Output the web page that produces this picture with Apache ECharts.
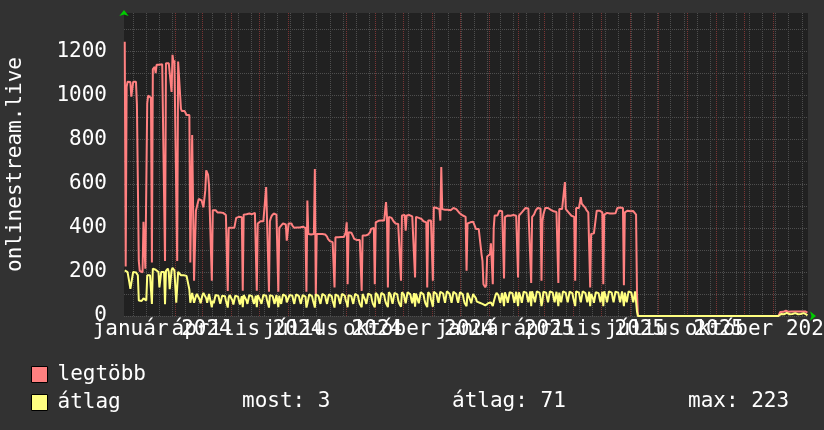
<!DOCTYPE html>
<html><head><meta charset="utf-8">
<script src="https://cdn.jsdelivr.net/npm/echarts@6/dist/echarts.min.js"></script>
<style>html,body{margin:0;padding:0;background:#323232;}#c{width:824px;height:430px;}</style>
</head><body><div id="c"></div>
<script>
const seriesNames = ['legtöbb', 'átlag'];
const dataStart = '2023-12-09';
const tailStart = '2025-11-06';
// daily "legtöbb" values from 2023-12-09 to 2025-06-09
const maxMain = [
1245,225,1040,1063,1060,1058,1062,995,1000,1063,1065,1060,1063,958,
955,250,205,200,210,198,428,430,215,220,965,1000,1003,1000,
990,243,1120,1125,1130,1102,1140,1147,1147,1140,1140,1145,1142,1150,
1140,250,1147,1150,1148,1147,1150,1145,1017,1185,1150,1160,1165,1160,
250,1155,1160,1150,940,930,930,925,930,930,912,912,910,912,
243,243,821,821,160,160,478,478,480,531,531,531,525,531,
493,493,570,661,661,640,592,592,590,160,480,482,478,480,
478,470,465,468,470,470,472,468,460,462,458,460,114,400,
400,405,400,398,402,400,405,445,448,448,450,445,448,448,
115,460,465,465,462,465,468,465,470,465,462,465,465,468,
465,115,420,425,428,430,425,428,430,425,430,585,585,580,
110,430,445,455,460,465,462,465,460,465,110,400,405,410,
418,420,418,420,415,342,380,420,418,415,420,410,405,400,
402,400,402,400,405,402,400,402,405,400,398,400,110,524,
372,375,372,370,372,375,372,667,90,372,375,370,372,375,
370,372,380,378,370,365,360,350,345,340,338,335,335,335,
129,357,360,358,357,360,362,358,355,360,358,362,380,425,
144,380,382,380,378,375,360,350,345,350,345,350,348,345,
350,114,365,365,362,365,368,365,370,372,380,395,400,398,
400,144,425,428,430,432,433,430,433,435,430,433,440,517,
450,129,450,452,450,445,440,430,425,420,418,420,418,420,
418,160,456,456,455,458,387,456,455,456,458,455,456,452,
450,455,175,450,450,448,445,440,438,440,435,430,428,425,
425,129,433,433,435,433,430,160,494,494,495,490,488,490,
485,433,676,485,488,485,482,485,480,482,480,485,480,478,
480,490,490,488,485,480,475,470,465,460,458,456,456,455,
450,205,420,425,428,425,430,425,428,425,420,395,398,395,
395,390,392,280,250,144,135,130,140,270,275,270,280,330,
330,144,400,456,458,455,456,460,478,480,478,475,478,170,
450,452,455,456,458,456,455,452,456,458,455,456,455,452,
175,456,460,465,470,475,480,485,490,494,490,488,492,494,
150,450,455,460,470,480,485,490,494,490,488,160,430,460,
475,490,494,494,490,488,485,482,480,478,475,472,470,472,
470,150,485,485,488,485,482,485,608,485,480,475,470,465,
460,455,450,452,450,160,490,490,488,490,492,539,510,505,
500,495,490,480,475,470,468,129,372,372,370,375,372,380,
478,478,475,478,476,478,470,144,460,462,465,468,470,468,
465,470,468,465,470,468,466,470,490,488,490,492,490,488,
490,140,470,472,475,478,480,478,475,478,480,476,478,470,
460,100,0
];
// daily "átlag" values from 2023-12-09 to 2025-06-09
const avgMain = [
207,205,200,199,198,150,123,120,125,200,201,200,198,190,
185,70,65,62,68,70,80,85,75,70,185,188,185,185,
180,55,215,223,215,210,207,207,200,130,132,200,200,202,
200,53,205,212,215,200,122,125,207,218,212,207,200,60,
60,200,200,195,185,185,182,185,180,185,182,185,180,120,
60,60,105,105,60,60,
90,100,98,95,75,58,62, 95,105,102,100,80,60,65, 100,98,95,40,70,58,62,
95,100,98,92,72,55,60, 92,98,96,90,70,55,38, 85,95,96,90,70,52,58,
92,98,95,88,68,52,58, 90,40,95,98,90,70,55, 60,95,100,96,90,68,55,
60,92,40,95,92,88,68, 55,60,95,100,98,92,70, 55,38,95,100,96,90,70,
55,60,95,98,40,92,70, 55,60,98,100,96,90,62, 55,60,95,100,98,92,70,
55,60,98,102,96,90,70, 55,60,95,98,96,88,38, 55,62,98,100,96,90,70,
55,38,98,102,96,90,70, 55,60,100,105,98,92,70, 55,60,98,102,96,90,68,
55,38,98,100,96,90,70, 55,60,100,102,98,92,70, 60,40,95,100,96,90,70,
55,60,100,105,98,92,70, 55,60,40,100,98,92,70, 55,60,102,108,100,95,72,
55,60,40,105,100,95,72, 55,62,105,110,102,96,72, 58,62,40,108,102,96,72,
55,62,105,110,104,98,72, 58,62,42,108,104,98,75, 58,62,108,112,105,98,75,
58,62,104,42,102,98,72, 58,62,108,112,104,98,75, 58,62,40,108,104,98,75,
60,42,110,115,108,100,75, 60,65,110,118,110,102,78, 60,65,112,116,108,100,78,
60,65,110,115,108,100,75, 60,65,108,112,105,98,75, 58,62,45,105,102,96,72,
58,62,100,104,98,80,65, 62,60,60,58,58,55,50, 48,48,50,55,58,60,60,
62,62,45,65,70,95,105, 100,95,75,60,65,105,112, 45,108,100,80,60,65,108,
115,110,104,80,60,65,110, 115,45,108,100,80,60,65, 110,118,112,105,80,62,66,
112,45,112,105,80,62,66, 112,118,112,105,80,45,66, 110,118,112,106,82,62,66,
112,120,114,106,82,62,66, 110,118,45,106,82,62,66, 112,118,112,105,80,62,66,
110,116,110,104,80,62,45, 112,118,114,106,82,62,66, 112,118,112,104,80,62,66,
110,45,100,98,80,60,65, 108,115,110,104,80,62,66, 110,45,112,106,82,62,66,
112,118,114,106,82,62,66, 110,118,112,106,82,62,66, 112,118,45,106,82,62,66,
112,120,114,106,82,62,66,
112,110,20,0
];
// daily values from 2025-11-06 to 2025-12-07
const maxTail = [0,0,18,18,20,19,18,20,24,30,22,19,18,19,20,19,18,20,26,28,20,18,19,20,19,18,20,25,28,20,18,15];
const avgTail = [0,0,8,9,10,9,8,10,12,14,10,9,8,9,10,9,8,10,13,12,9,8,9,10,9,8,10,13,11,8,6,3];
const tickLabels = ['január 2024','április 2024','július 2024','október 2024','január 2025','április 2025','július 2025','október 2025'];
const tickLabelDates = ['2024-01-18','2024-04-18','2024-07-18','2024-10-18','2025-01-18','2025-04-18','2025-07-18','2025-10-18'];
const yLabels = [0,200,400,600,800,1000,1200];
const yGrid = [0,100,200,300,400,500,600,700,800,900,1000,1100,1200,1300];
const statLabels = ['most: 3','átlag: 71','max: 223'];
const yName = 'onlinestream.live';

const DAY = 86400000;
const origin = Date.UTC(2024,0,1);
function dayOf(s){ const p = s.split('-').map(Number); return (Date.UTC(p[0],p[1]-1,p[2]) - origin)/DAY; }
function toPoints(start, arr){ const s = dayOf(start); return arr.map((v,i)=>[s+i, v]); }
const maxData = toPoints(dataStart, maxMain).concat(toPoints(tailStart, maxTail));
const avgData = toPoints(dataStart, avgMain).concat(toPoints(tailStart, avgTail));

const monthTicks = [];
for (let y = 2024; y <= 2025; y++) for (let m = 0; m < 12; m++) monthTicks.push((Date.UTC(y,m,1)-origin)/DAY);
const weekTicks = [];
for (let d = -14; d <= 706; d += 14) weekTicks.push(d);
const labelDays = tickLabelDates.map(dayOf);
const labelDaysA = labelDays.filter((d,i)=>i%2===0);
const labelDaysB = labelDays.filter((d,i)=>i%2===1);
const xMin = -23.8, xMax = 706.6;

const FONT = 'DejaVu Sans Mono';
const FS = 21;
const minorColor = '#4e4e4e';
const majorColor = '#7a3434';
const chart = echarts.init(document.getElementById('c'), null, {renderer:'canvas'});
const labelFmt = (v)=>{ const i = labelDays.indexOf(Math.round(v)); return i >= 0 ? tickLabels[i] : ''; };
const labelStyle = {show:true, color:'#ffffff', fontFamily:FONT, fontSize:FS, margin:3,
  showMinLabel:true, showMaxLabel:true, hideOverlap:false, formatter:labelFmt};
const baseX = {type:'value', min:xMin, max:xMax, position:'bottom',
  axisLine:{show:false, onZero:false}, axisTick:{show:false}, axisLabel:{show:false}, splitLine:{show:false}};
chart.setOption({
  animation:false,
  backgroundColor:'#323232',
  grid:{left:124, right:16, top:13, bottom:114, show:true, backgroundColor:'#212121', borderWidth:0,
    outerBoundsMode:'none', containLabel:false},
  xAxis:[
    Object.assign({}, baseX, {
      axisLine:{show:true, onZero:false, lineStyle:{color:'#00cc00', width:0}, symbol:['none','arrow'], symbolSize:[7,6], symbolOffset:[0,8]},
      axisTick:{show:false, customValues: monthTicks},
      axisLabel:Object.assign({customValues: labelDaysA}, labelStyle),
      splitLine:{show:true, lineStyle:{color:majorColor, type:[1,1], width:1}}
    }),
    Object.assign({}, baseX, {
      axisTick:{show:false, customValues: weekTicks},
      splitLine:{show:true, lineStyle:{color:minorColor, type:[1,1], width:1}}
    }),
    Object.assign({}, baseX, {
      axisLabel:Object.assign({customValues: labelDaysB}, labelStyle)
    })
  ],
  yAxis:{type:'value', min:0, max:1375,
    name:yName, nameLocation:'middle', nameRotate:90, nameGap:98,
    nameTextStyle:{color:'#ffffff', fontFamily:FONT, fontSize:FS},
    axisLine:{show:true, onZero:false, lineStyle:{color:'#00cc00', width:0}, symbol:['none','arrow'], symbolSize:[7,6], symbolOffset:[0,3]},
    axisTick:{show:false, customValues: yGrid},
    axisLabel:{customValues: yLabels, color:'#ffffff', fontFamily:FONT, fontSize:FS, margin:17,
      showMinLabel:true, showMaxLabel:true, formatter:(v)=>String(v)},
    splitLine:{show:true, lineStyle:{color:minorColor, type:[1,1], width:1}}
  },
  legend:{orient:'vertical', left:31, top:364, padding:0, itemWidth:16, itemHeight:16, itemGap:7, icon:'rect', selectedMode:false,
    textStyle:{color:'#ffffff', fontFamily:FONT, fontSize:FS, padding:[0,0,0,5]},
    data:[{name:seriesNames[0], itemStyle:{color:'#ff8080', borderColor:'#000', borderWidth:1}},
          {name:seriesNames[1], itemStyle:{color:'#ffff80', borderColor:'#000', borderWidth:1}}]},
  title: statLabels.map((t,i)=>({text:t, left:[242,452,688][i], top:391, padding:0,
    textStyle:{color:'#ffffff', fontFamily:FONT, fontSize:FS, fontWeight:'normal'}})),
  series:[
    {name:seriesNames[0], type:'line', data:maxData, xAxisIndex:0, showSymbol:false, symbol:'none', sampling:null,
      color:'#ff8080', lineStyle:{color:'#ff8080', width:2}},
    {name:seriesNames[1], type:'line', data:avgData, xAxisIndex:0, showSymbol:false, symbol:'none', sampling:null,
      color:'#ffff80', lineStyle:{color:'#ffff80', width:2}}
  ]
});
</script></body></html>
